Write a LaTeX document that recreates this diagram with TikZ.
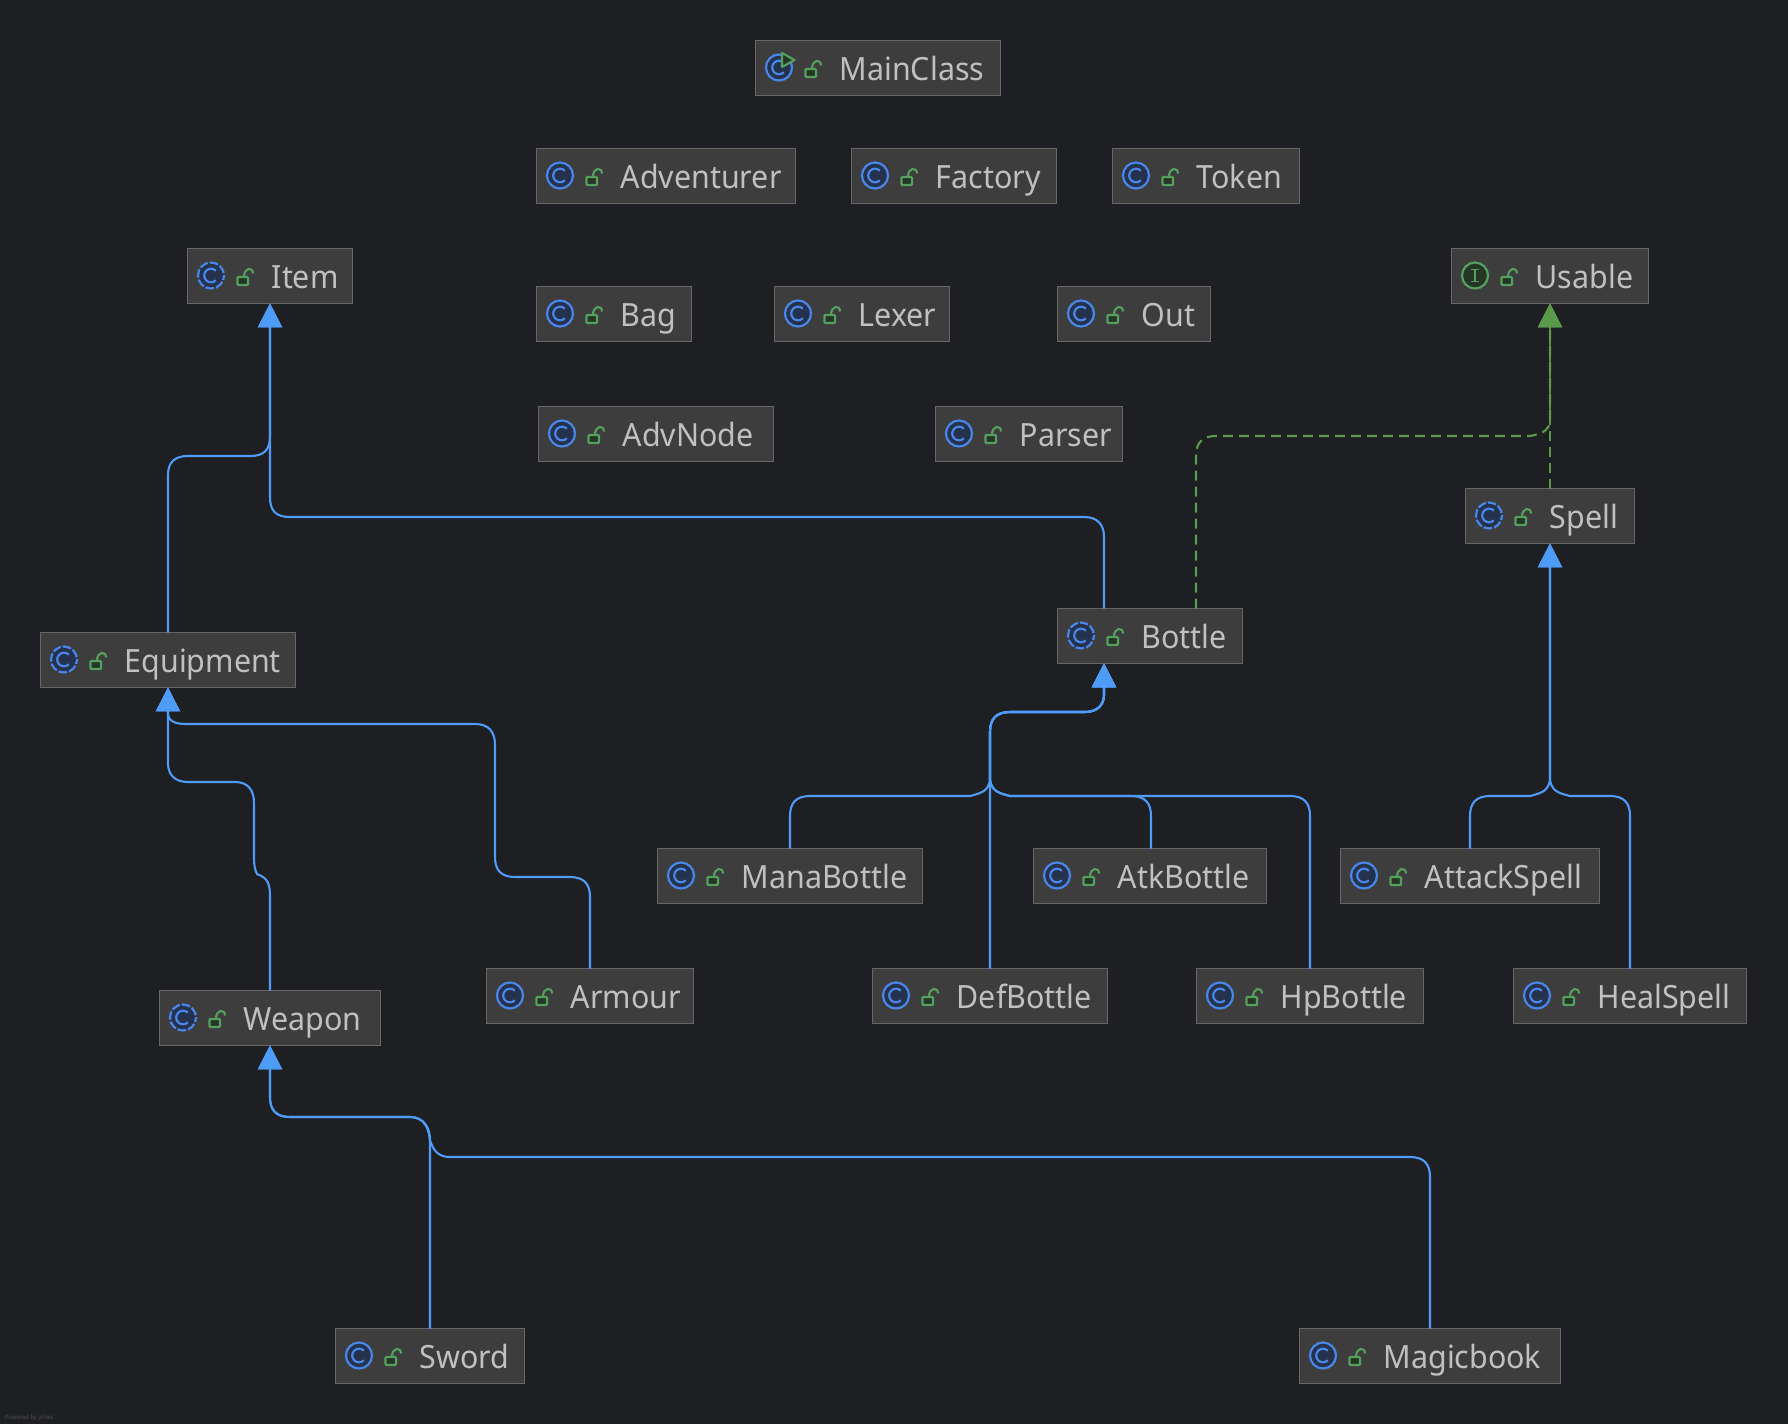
\documentclass[tikz,border=0pt]{standalone}
\usepackage{fontspec}
\setmainfont[FakeStretch=0.95]{Noto Sans}
\usetikzlibrary{arrows.meta}
\definecolor{bgc}{HTML}{1E1F22}
\definecolor{boxfill}{HTML}{3D3D3D}
\definecolor{boxline}{HTML}{676767}
\definecolor{txt}{HTML}{C0C0C0}
\definecolor{bluee}{HTML}{4F9BF8}
\definecolor{greene}{HTML}{5C9A4B}
\definecolor{iconb}{HTML}{4A86E8}
\definecolor{iconbf}{HTML}{25324D}
\definecolor{icong}{HTML}{55A05F}
\definecolor{icongf}{HTML}{253627}
\tikzset{
 x=1pt,y=-1pt,
 boxst/.style={draw=boxline,fill=boxfill,line width=1.3pt,inner sep=0pt,outer sep=0pt},
 lab/.style={text=txt,inner sep=0pt,anchor=base west,font=\fontsize{32}{36}\selectfont},
 inh/.style={draw=bluee,line width=2.1pt,-{Triangle[length=24pt,width=24pt,fill=bluee]}},
 impl/.style={draw=greene,line width=2.1pt,-{Triangle[length=24pt,width=24pt,fill=greene]}},
 impld/.style={impl,dash pattern=on 10pt off 6pt},
}
\newcommand{\lockicon}[2]{%
 \draw[draw=icong,fill=icongf,line width=2.1pt,rounded corners=0.8pt] (#1+50.5,#2+1.5) rectangle (#1+61,#2+9.5);
 \draw[icong,line width=2.1pt] (#1+57,#2+1) .. controls (#1+57,#2-8) and (#1+66,#2-9) .. (#1+66,#2-2);
}
\newcommand{\classicon}[3]{% type, x, y
 \ifx#1a
  \fill[iconbf] (#2+24,#3) circle (13);
  \draw[iconb,line width=2.2pt,dash pattern=on 8.6pt off 2pt,dash phase=4pt] (#2+24,#3) circle (13);
 \else
  \draw[iconb,fill=iconbf,line width=2.2pt] (#2+24,#3) circle (13);
 \fi
 \draw[iconb,line width=2.2pt] (#2+24,#3) ++(45:6.8pt) arc[start angle=45,end angle=315,radius=6.8pt];
}
\newcommand{\clsbox}[7]{% name,x0,y0,x1,y1,text,type
 \node[boxst,minimum width=#4-#2-1.3,minimum height=#5-#3-1.3] (#1) at ({(#2+#4)/2},{(#3+#5)/2}) {};
 \ifx#7i
  \draw[icong,fill=icongf,line width=2.2pt] (#2+24,#3+27.5) circle (13);
  \draw[icong,line width=1.8pt] (#2+20,#3+21.5) -- (#2+28,#3+21.5) (#2+24,#3+21.5) -- (#2+24,#3+33.5) (#2+20,#3+33.5) -- (#2+28,#3+33.5);
 \else
  \classicon{#7}{#2}{#3+27.5}
 \fi
 \ifx#7m
  \draw[icong,fill=icongf,line width=2.1pt,line join=round] (#2+27,#3+13) -- (#2+39.5,#3+20) -- (#2+27,#3+27) -- cycle;
 \fi
 \lockicon{#2}{#3+27.5}
 \node[lab] (#1T) at (#2+84.5,#3+40) {#6};
}
\begin{document}
\begin{tikzpicture}
\useasboundingbox (0,0) rectangle (1788,1424);
\fill[bgc] (0,0) rectangle (1788,1424);

\clsbox{MainClass}{755}{40}{1001}{96}{MainClass}{m}
\clsbox{Adventurer}{536}{148}{796}{204}{Adventurer}{c}
\clsbox{Factory}{851}{148}{1057}{204}{Factory}{c}
\clsbox{Token}{1112}{148}{1300}{204}{Token}{c}
\clsbox{Item}{187}{248}{353}{304}{Item}{a}
\clsbox{Usable}{1451}{248}{1649}{304}{Usable}{i}
\clsbox{Bag}{536}{286}{692}{342}{Bag}{c}
\clsbox{Lexer}{774}{286}{950}{342}{Lexer}{c}
\clsbox{Out}{1057}{286}{1211}{342}{Out}{c}
\clsbox{AdvNode}{538}{406}{774}{462}{AdvNode}{c}
\clsbox{Parser}{935}{406}{1123}{462}{Parser}{c}
\clsbox{Spell}{1465}{488}{1635}{544}{Spell}{a}
\clsbox{Bottle}{1057}{608}{1243}{664}{Bottle}{a}
\clsbox{Equipment}{40}{632}{296}{688}{Equipment}{a}
\clsbox{ManaBottle}{657}{848}{923}{904}{ManaBottle}{c}
\clsbox{AtkBottle}{1033}{848}{1267}{904}{AtkBottle}{c}
\clsbox{AttackSpell}{1340}{848}{1600}{904}{AttackSpell}{c}
\clsbox{Armour}{486}{968}{694}{1024}{Armour}{c}
\clsbox{DefBottle}{872}{968}{1108}{1024}{DefBottle}{c}
\clsbox{HpBottle}{1196}{968}{1424}{1024}{HpBottle}{c}
\clsbox{HealSpell}{1513}{968}{1747}{1024}{HealSpell}{c}
\clsbox{Weapon}{159}{990}{381}{1046}{Weapon}{a}
\clsbox{Sword}{335}{1328}{525}{1384}{Sword}{c}
\clsbox{Magicbook}{1299}{1328}{1561}{1384}{Magicbook}{c}

% Item
\draw[inh] (Equipment.north) -- (168,475) .. controls (168,462) and (175,456) .. (188,456) -- (250,456) .. controls (264,456) and (270,450) .. (270,436) -- (Item.south);
\draw[inh] ([xshift=-46pt]Bottle.north) -- (1104,537) .. controls (1104,524) and (1097,517) .. (1084,517) -- (290,517) .. controls (276,517) and (270,511) .. (270,497) -- (Item.south);
% Equipment
\draw[inh] (Weapon.north) -- (270,897) .. controls (270,884) and (268,878) .. (257,874) .. controls (255,870) and (254,866) .. (254,857) -- (254,803) .. controls (254,790) and (248,782) .. (235,782) -- (188,782) .. controls (175,782) and (168,775) .. (168,763) -- (Equipment.south);
\draw[inh] (Armour.north) -- (590,897) .. controls (590,884) and (584,877) .. (570,877) -- (515,877) .. controls (501,877) and (495,870) .. (495,857) -- (495,745) .. controls (495,732) and (489,724) .. (475,724) -- (188,724) .. controls (178,724) and (170,723) .. (168,715) -- (Equipment.south);
% Bottle
\draw[inh] (ManaBottle.north) -- (790,816) .. controls (790,803) and (796,796) .. (810,796) -- (970,796) .. controls (982,793) and (988,791) .. (990,780) -- (990,732) .. controls (990,719) and (996,712) .. (1010,712) -- (1085,712) .. controls (1097,712) and (1104,705) .. (1104,695) -- ([xshift=-46pt]Bottle.south);
\draw[inh] (DefBottle.north) -- (990,732) .. controls (990,719) and (996,712) .. (1010,712) -- (1085,712) .. controls (1097,712) and (1104,705) .. (1104,695) -- ([xshift=-46pt]Bottle.south);
\draw[inh] ([xshift=1pt]AtkBottle.north) -- (1151,816) .. controls (1151,803) and (1145,796) .. (1131,796) -- (1010,796) .. controls (998,793) and (992,791) .. (990,780) -- (990,732) .. controls (990,719) and (996,712) .. (1010,712) -- (1085,712) .. controls (1097,712) and (1104,705) .. (1104,695) -- ([xshift=-46pt]Bottle.south);
\draw[inh] (HpBottle.north) -- (1310,816) .. controls (1310,803) and (1304,796) .. (1290,796) -- (1010,796) .. controls (998,793) and (992,791) .. (990,780) -- (990,732) .. controls (990,719) and (996,712) .. (1010,712) -- (1085,712) .. controls (1097,712) and (1104,705) .. (1104,695) -- ([xshift=-46pt]Bottle.south);
% Spell
\draw[inh] (AttackSpell.north) -- (1470,816) .. controls (1470,803) and (1476,796) .. (1490,796) -- (1530,796) .. controls (1542,793) and (1548,791) .. (1550,780) -- (Spell.south);
\draw[inh] (HealSpell.north) -- (1630,816) .. controls (1630,803) and (1624,796) .. (1610,796) -- (1570,796) .. controls (1558,793) and (1552,791) .. (1550,780) -- (Spell.south);
% Weapon
\draw[inh] (Sword.north) -- (430,1145) .. controls (430,1128) and (424,1117) .. (410,1117) -- (290,1117) .. controls (276,1117) and (270,1110) .. (270,1097) -- (Weapon.south);
\draw[inh] (Magicbook.north) -- (1430,1177) .. controls (1430,1164) and (1424,1157) .. (1410,1157) -- (450,1157) .. controls (438,1157) and (433,1150) .. (430,1140) .. controls (430,1128) and (424,1117) .. (410,1117) -- (290,1117) .. controls (276,1117) and (270,1110) .. (270,1097) -- (Weapon.south);
% Usable
\draw[impld] (Spell.north) -- (Usable.south);
\draw[impld] ([xshift=46pt]Bottle.north) -- (1196,456) .. controls (1196,443) and (1202,436) .. (1216,436) -- (1530,436) .. controls (1545,433) and (1548,430) .. (1550,422) -- (Usable.south);

\node[text=white!22!bgc,anchor=base west,inner sep=0pt,font=\fontsize{6.1}{8}\selectfont] (power) at (5,1419) {Powered by yFiles};
\end{tikzpicture}
\end{document}
